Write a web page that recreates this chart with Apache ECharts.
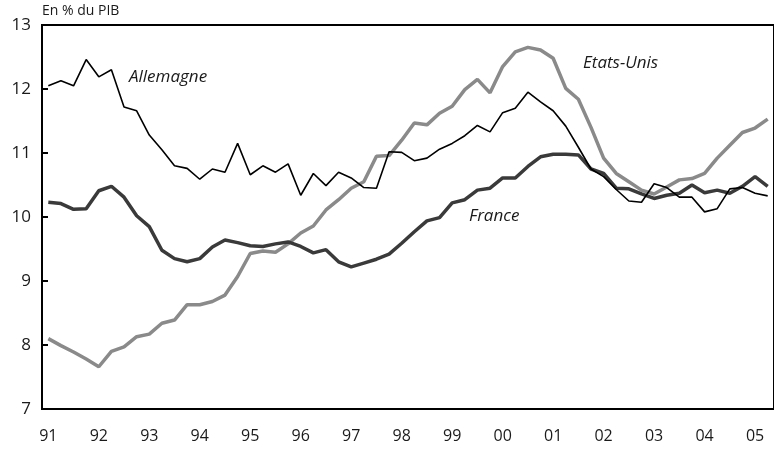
<!DOCTYPE html>
<html>
<head>
<meta charset="utf-8">
<script src="https://cdn.jsdelivr.net/npm/echarts@6/dist/echarts.min.js"></script>
<style>
  html, body { margin: 0; padding: 0; background: #fff; }
  #one { width: 774px; height: 449px; }
</style>
</head>
<body>
<div id="one"></div>
<script>
// years shown on the axis, one label every 4 quarters
var years = ['91','92','93','94','95','96','97','98','99','00','01','02','03','04','05'];
// quarters 1991T1 .. 2005T2
var quarters = [];
for (var y = 0; y < years.length; y++) {
  for (var q = 1; q <= 4; q++) {
    if (quarters.length < 58) quarters.push(years[y] + 'T' + q);
  }
}

var allemagne = [12.05,12.13,12.05,12.46,12.19,12.30,11.72,11.66,11.28,11.05,
  10.80,10.76,10.59,10.75,10.70,11.15,10.66,10.80,10.70,10.83,
  10.34,10.68,10.49,10.70,10.61,10.46,10.45,11.02,11.01,10.88,
  10.92,11.06,11.15,11.27,11.43,11.33,11.63,11.70,11.95,11.80,
  11.66,11.42,11.09,10.75,10.63,10.43,10.25,10.23,10.52,10.46,
  10.31,10.31,10.08,10.13,10.44,10.46,10.37,10.33];

var etatsUnis = [8.10,7.99,7.89,7.78,7.66,7.90,7.97,8.13,8.17,8.34,
  8.39,8.63,8.63,8.68,8.78,9.07,9.43,9.47,9.45,9.58,
  9.75,9.86,10.11,10.27,10.45,10.55,10.95,10.96,11.20,11.47,
  11.44,11.62,11.73,11.99,12.15,11.94,12.35,12.58,12.65,12.61,
  12.48,12.01,11.84,11.40,10.92,10.68,10.55,10.42,10.36,10.47,
  10.58,10.60,10.68,10.92,11.12,11.32,11.39,11.53];

var france = [10.23,10.21,10.12,10.13,10.41,10.48,10.31,10.02,9.85,9.48,
  9.35,9.30,9.35,9.53,9.64,9.60,9.55,9.54,9.58,9.61,
  9.54,9.44,9.49,9.30,9.22,9.28,9.34,9.42,9.59,9.77,
  9.94,9.99,10.22,10.27,10.42,10.45,10.61,10.61,10.79,10.94,
  10.98,10.98,10.97,10.75,10.68,10.45,10.44,10.36,10.29,10.34,
  10.37,10.50,10.38,10.42,10.37,10.48,10.63,10.48];

var fontFam = '"Open Sans", Lato, sans-serif';

var chart = echarts.init(document.getElementById('one'));
var option = {
  animation: false,
  grid: {
    left: 42, top: 25, bottom: 40, right: -7,
    show: true, borderColor: '#000', borderWidth: 2, backgroundColor: 'transparent'
  },
  graphic: [
    { type: 'text', left: 42, top: 4, style: { text: 'En % du PIB', font: '14px ' + fontFam, fill: '#1a1a1a' } },
    { type: 'text', left: 129, top: 69, style: { text: 'Allemagne', font: 'italic 17px ' + fontFam, fill: '#1a1a1a' } },
    { type: 'text', left: 583, top: 55, style: { text: 'Etats-Unis', font: 'italic 17px ' + fontFam, fill: '#1a1a1a' } },
    { type: 'text', left: 469, top: 208, style: { text: 'France', font: 'italic 17px ' + fontFam, fill: '#1a1a1a' } }
  ],
  xAxis: {
    type: 'category',
    data: quarters,
    boundaryGap: true,
    axisLine: { lineStyle: { color: '#000', width: 2 } },
    axisTick: { inside: true, length: 6, interval: 3, lineStyle: { color: '#000', width: 2 } },
    axisLabel: {
      interval: 3, margin: 19, color: '#1a1a1a', fontSize: 16, fontFamily: fontFam,
      formatter: function (v) { return v.slice(0, 2); }
    },
    splitLine: { show: false }
  },
  yAxis: {
    type: 'value',
    min: 7, max: 13, interval: 1,
    axisLine: { show: true, lineStyle: { color: '#000', width: 2 } },
    axisTick: { show: true, inside: true, length: 6, lineStyle: { color: '#000', width: 2 } },
    axisLabel: { margin: 11, color: '#1a1a1a', fontSize: 17, fontFamily: fontFam },
    splitLine: { show: false }
  },
  series: [
    { name: 'Etats-Unis', type: 'line', data: etatsUnis, symbol: 'none',
      lineStyle: { color: '#8a8a8a', width: 3.5 } },
    { name: 'France', type: 'line', data: france, symbol: 'none',
      lineStyle: { color: '#3a3a3a', width: 3.5 } },
    { name: 'Allemagne', type: 'line', data: allemagne, symbol: 'none',
      lineStyle: { color: '#000', width: 1.6 } }
  ]
};
chart.setOption(option);
</script>
</body>
</html>
